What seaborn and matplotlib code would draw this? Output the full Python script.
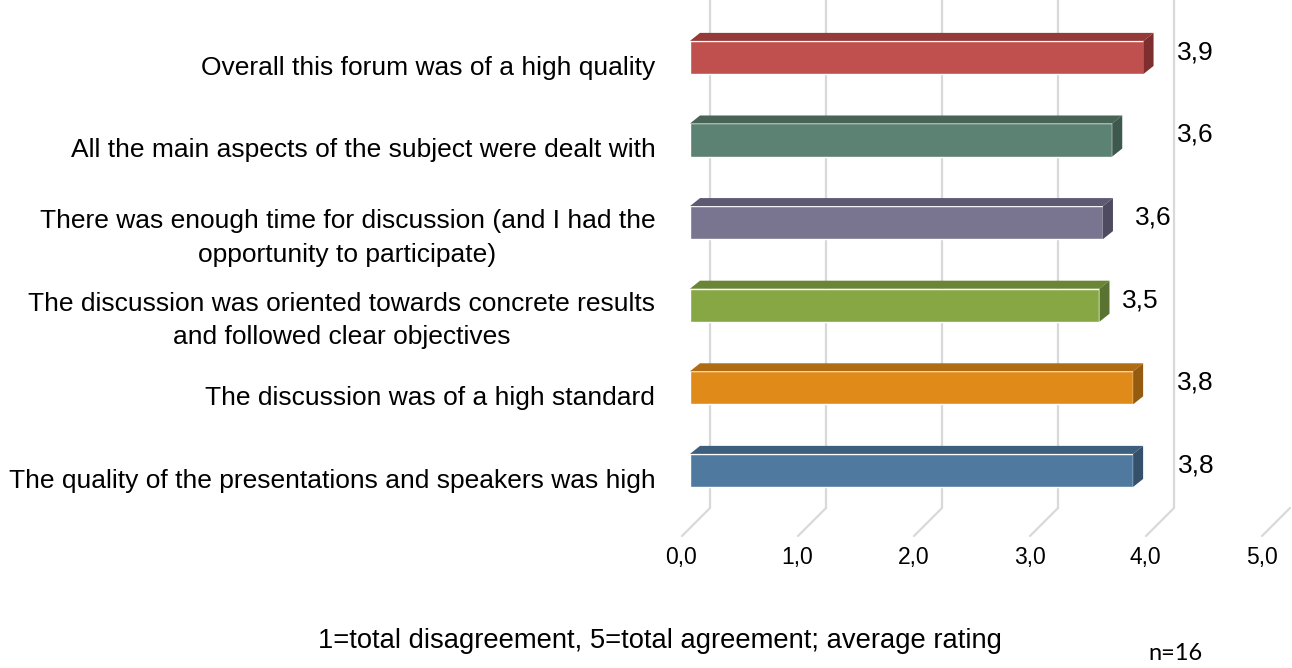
import matplotlib
matplotlib.use('Agg')  # no display
import matplotlib.pyplot as plt
import matplotlib.transforms as mtransforms
from matplotlib.patches import Polygon
import seaborn as sns
import pandas as pd

# data
categories = [
    'Overall this forum was of a high quality',
    'All the main aspects of the subject were dealt with',
    'There was enough time for discussion (and I had the\nopportunity to participate)',
    'The discussion was oriented towards concrete results\nand followed clear objectives',
    'The discussion was of a high standard',
    'The quality of the presentations and speakers was high',
]
ratings = [3.91, 3.64, 3.56, 3.53, 3.82, 3.82]
value_labels = ['3,9', '3,6', '3,6', '3,5', '3,8', '3,8']
label_x = [4.20, 4.20, 3.84, 3.72, 4.20, 4.21]
tick_values = [0, 1, 2, 3, 4, 5]
tick_labels = ['0,0', '1,0', '2,0', '3,0', '4,0', '5,0']

# front / top / side shades of each bar
front_colors = ['#C0504D', '#5B8272', '#797490', '#86A744', '#E08A19', '#5079A0']
top_colors = ['#953A38', '#476456', '#5E5973', '#6A8535', '#B06C13', '#3E5E7D']
side_colors = ['#7E2F2D', '#3D584C', '#4E4A60', '#5B7330', '#955C10', '#35506B']
grid_color = '#D9D9D9'

sns.set_style('white')
plt.rcParams['font.family'] = ['Liberation Sans', 'DejaVu Sans']
plt.rcParams['text.color'] = 'black'
plt.rcParams['xtick.color'] = 'black'
plt.rcParams['ytick.color'] = 'black'
plt.rcParams['axes.labelcolor'] = 'black'

W, H = 1292, 668
fig = plt.figure(figsize=(W / 100, H / 100), dpi=100)
ax = fig.add_axes([690 / W, 1 - 511.7 / H, 580 / W, 495.6 / H])

df = pd.DataFrame({'statement': categories, 'rating': ratings})
sns.barplot(data=df, x='rating', y='statement', hue='statement',
            palette=front_colors, orient='h', width=0.4, saturation=1,
            legend=False, ax=ax, zorder=3)

ax.set_xlim(0, 5)
ax.set_ylim(5.5, -0.5)

# pixel size of one data unit, used for the fake 3d depth
bbox = ax.get_window_extent()
ppx = bbox.width / 5
ppy = bbox.height / 6
dx = 10 / ppx
dy = 8 / ppy

for patch in ax.patches:
    x0 = patch.get_x()
    x1 = x0 + patch.get_width()
    yt = patch.get_y()
    yb = yt + patch.get_height()
    i = int(round(yt + patch.get_height() / 2))
    top = Polygon([(x0, yt), (x0 + dx, yt - dy), (x1 + dx, yt - dy), (x1, yt)],
                  closed=True, facecolor=top_colors[i], edgecolor='none', zorder=3)
    side = Polygon([(x1, yt), (x1 + dx, yt - dy), (x1 + dx, yb - dy), (x1, yb)],
                   closed=True, facecolor=side_colors[i], edgecolor='none', zorder=3)
    ax.add_patch(top)
    ax.add_patch(side)

# back wall and floor grid lines
trans = mtransforms.blended_transform_factory(ax.transData, fig.transFigure)
y_back = 1 - 508 / H
y_front = 1 - 536 / H
for k in tick_values:
    xb = k + 20 / ppx
    xf = k - 8 / ppx
    if k < 5:
        ax.plot([xb, xb], [1.0, y_back], transform=trans, color=grid_color,
                lw=1.6, clip_on=False, zorder=1)
    ax.plot([xb, xf], [y_back, y_front], transform=trans, color=grid_color,
            lw=1.6, clip_on=False, zorder=1)

# value labels
lift = mtransforms.ScaledTranslation(0, 5 / 100, fig.dpi_scale_trans)
for i, txt in enumerate(value_labels):
    ax.text(label_x[i], i, txt, ha='left', va='center', fontsize=19,
            color='black', transform=ax.transData + lift)

ax.set_xticks(tick_values)
ax.set_xticklabels(tick_labels)
ax.tick_params(axis='x', length=0, pad=25, labelsize=16.5)
ax.tick_params(axis='y', length=0, pad=25, labelsize=19)
ax.set_xlabel('')
ax.set_ylabel('')
for s in ax.spines.values():
    s.set_visible(False)

shift_x = mtransforms.ScaledTranslation(-8.5 / 100, 0, fig.dpi_scale_trans)
for lbl in ax.get_xticklabels():
    lbl.set_transform(lbl.get_transform() + shift_x)

shift_y = mtransforms.ScaledTranslation(0, -8 / 100, fig.dpi_scale_trans)
for lbl in ax.get_yticklabels():
    lbl.set_multialignment('center')
    lbl.set_linespacing(1.5)
    lbl.set_transform(lbl.get_transform() + shift_y)

ax.set_xlim(0, 5)
ax.set_ylim(5.5, -0.5)

fig.text(660 / W, 1 - 641 / H, '1=total disagreement, 5=total agreement; average rating',
         ha='center', va='center', fontsize=19.7)
fig.text(1176 / W, 1 - 653 / H, 'n=16', ha='center', va='center', fontsize=17,
         family=['Lato', 'DejaVu Sans'])

fig.savefig('out.png', dpi=100)
plt.close()
